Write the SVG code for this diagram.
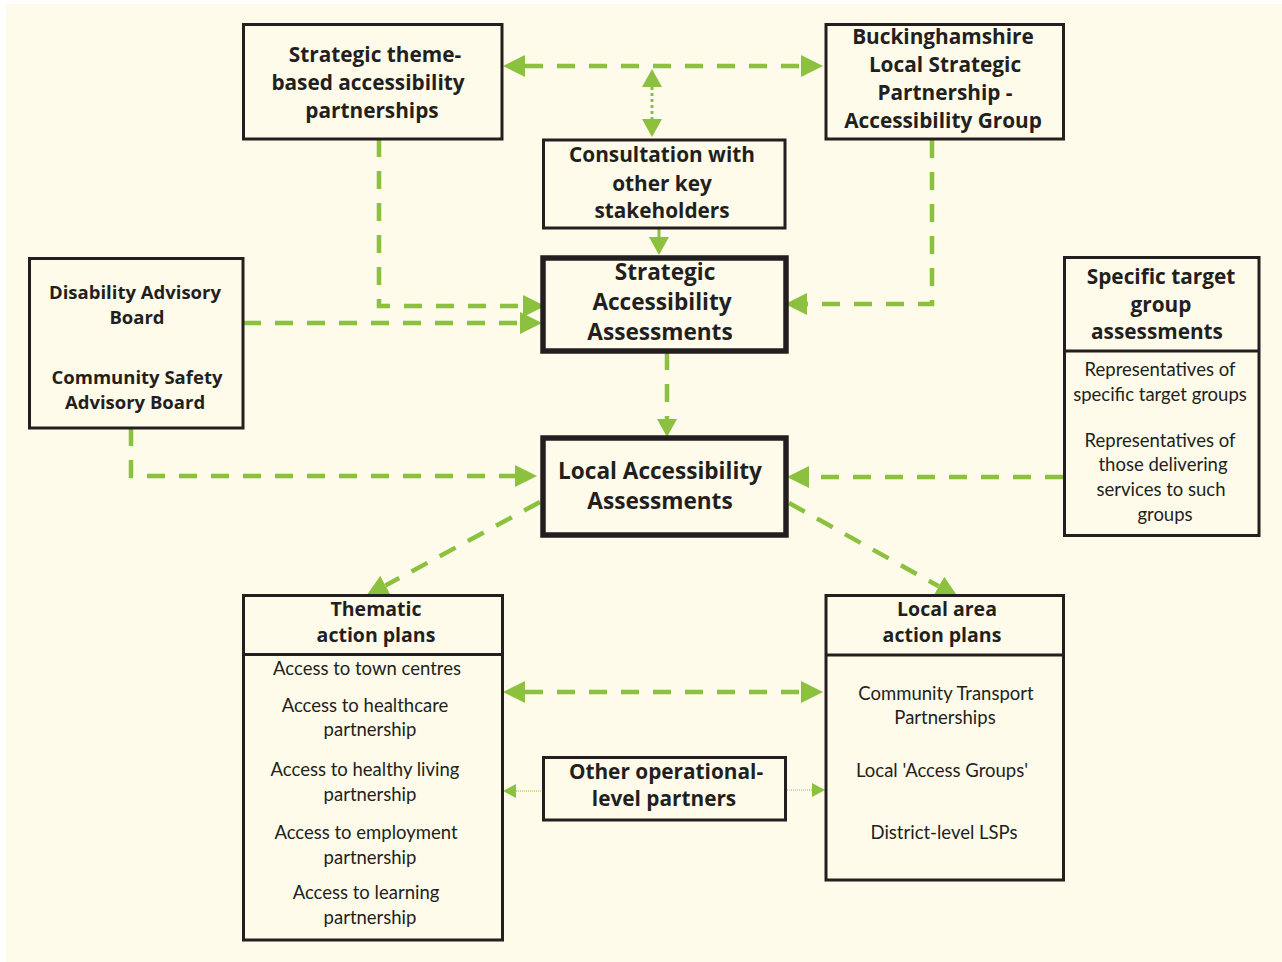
<svg xmlns="http://www.w3.org/2000/svg" width="1282" height="962" viewBox="0 0 1282 962">
<style>
.box{fill:none;stroke:#231f20;stroke-width:3}
.thick{fill:none;stroke:#231f20;stroke-width:5.5}
.h{font-family:"Open Sans","Liberation Sans",sans-serif;font-weight:bold;font-size:20.8px;fill:#231f20;text-anchor:middle}
.hp{font-family:"Open Sans","Liberation Sans",sans-serif;font-weight:bold;font-size:19.5px;fill:#231f20;text-anchor:middle}
.hb{font-family:"Open Sans","Liberation Sans",sans-serif;font-weight:bold;font-size:22.6px;fill:#231f20;text-anchor:middle}
.hs{font-family:"Open Sans","Liberation Sans",sans-serif;font-weight:bold;font-size:18.5px;fill:#231f20;text-anchor:middle}
.t{font-family:Lato,"Liberation Sans",sans-serif;font-size:18.5px;fill:#231f20;text-anchor:middle}
.dash{fill:none;stroke:#8cc03f;stroke-width:4.5;stroke-dasharray:18 14}
.dot{fill:none;stroke:#8cc03f;stroke-width:3;stroke-dasharray:3 3}
.solid{fill:none;stroke:#8cc03f;stroke-width:3}
.thin{fill:none;stroke:#8cc03f;stroke-width:1;stroke-dasharray:1 1}
</style>
<defs>
<marker id="a" markerUnits="userSpaceOnUse" markerWidth="22" markerHeight="22" viewBox="0 0 22 22" refX="0" refY="11" orient="auto-start-reverse"><path d="M0,0 L22,11 L0,22 Z" fill="#8cc03f"/></marker>
<marker id="ad" markerUnits="userSpaceOnUse" markerWidth="18" markerHeight="20" viewBox="0 0 18 20" refX="0" refY="10" orient="auto-start-reverse"><path d="M0,0 L18,10 L0,20 Z" fill="#8cc03f"/></marker>
<marker id="as" markerUnits="userSpaceOnUse" markerWidth="13" markerHeight="14" viewBox="0 0 13 14" refX="0" refY="7" orient="auto-start-reverse"><path d="M0,0 L13,7 L0,14 Z" fill="#8cc03f"/></marker>
</defs>
<rect x="0" y="0" width="1282" height="962" fill="#ffffff"/>
<rect x="6" y="4" width="1276" height="958" fill="#fefbea"/>

<g id="connectors">
<path class="dash" d="M525,66 H801" marker-start="url(#a)" marker-end="url(#a)"/>
<path class="dot" d="M652,87 V119" marker-start="url(#ad)" marker-end="url(#ad)"/>
<path class="solid" d="M659,228 V237" marker-end="url(#ad)"/>
<path class="dash" d="M379,139 V306 H523" marker-end="url(#a)"/>
<path class="dash" d="M243,323 H520" marker-end="url(#a)"/>
<path class="dash" d="M932,140 V304 H807" marker-end="url(#a)"/>
<path class="dash" d="M667,352 V419" marker-end="url(#ad)"/>
<path class="dash" d="M131,428 V476 H515" marker-end="url(#a)"/>
<path class="dash" d="M1063,477 H809" marker-end="url(#a)"/>
<path class="dash" d="M540,502 L385.5,585.5" marker-end="url(#a)"/>
<path class="dash" d="M789,503 L938.8,586.3" marker-end="url(#a)"/>
<path class="dash" d="M525,692 H801" marker-start="url(#a)" marker-end="url(#a)"/>
<path class="thin" d="M543,791 H516" marker-end="url(#as)"/>
<path class="thin" d="M785,790 H812" marker-end="url(#as)"/>
</g>

<g id="n-theme">
<rect class="box" x="243.5" y="24.5" width="258.5" height="114.5"/>
<text class="h"><tspan x="375" y="62">Strategic theme-</tspan><tspan x="368" y="90">based accessibility</tspan><tspan x="372" y="118">partnerships</tspan></text>
</g>

<g id="n-bucks">
<rect class="box" x="826" y="24.5" width="237.5" height="114.5"/>
<text class="h"><tspan x="943" y="44">Buckinghamshire</tspan><tspan x="945" y="72">Local Strategic</tspan><tspan x="945" y="100">Partnership -</tspan><tspan x="943" y="128">Accessibility Group</tspan></text>
</g>

<g id="n-consult">
<rect class="box" x="543.5" y="140" width="241.5" height="88"/>
<text class="h"><tspan x="662" y="162">Consultation with</tspan><tspan x="662" y="191">other key</tspan><tspan x="662" y="218">stakeholders</tspan></text>
</g>

<g id="n-saa">
<rect class="thick" x="543" y="258" width="243" height="93"/>
<text class="hb"><tspan x="665" y="280">Strategic</tspan><tspan x="662" y="310">Accessibility</tspan><tspan x="660" y="340">Assessments</tspan></text>
</g>

<g id="n-disability">
<rect class="box" x="29.5" y="258.5" width="213.5" height="169.5"/>
<text class="hs"><tspan x="135" y="299">Disability Advisory</tspan><tspan x="137" y="324">Board</tspan><tspan x="137" y="384">Community Safety</tspan><tspan x="135" y="409">Advisory Board</tspan></text>
</g>

<g id="n-specific">
<rect class="box" x="1064.5" y="257.5" width="194.5" height="278"/>
<line class="box" x1="1064.5" y1="351" x2="1259" y2="351"/>
<text class="h"><tspan x="1161" y="284">Specific target</tspan><tspan x="1161" y="312">group</tspan><tspan x="1157" y="339">assessments</tspan></text>
<text class="t"><tspan x="1160" y="376">Representatives of</tspan><tspan x="1160" y="401">specific target groups</tspan><tspan x="1160" y="447">Representatives of</tspan><tspan x="1163" y="471">those delivering</tspan><tspan x="1161" y="496">services to such</tspan><tspan x="1165" y="521">groups</tspan></text>
</g>

<g id="n-laa">
<rect class="thick" x="543" y="438" width="243" height="97"/>
<text class="hb"><tspan x="660" y="479">Local Accessibility</tspan><tspan x="660" y="509">Assessments</tspan></text>
</g>

<g id="n-thematic">
<rect class="box" x="243.5" y="595.5" width="259" height="344.5"/>
<line class="box" x1="243.5" y1="654.5" x2="502.5" y2="654.5"/>
<text class="hp"><tspan x="376" y="615.5">Thematic</tspan><tspan x="376" y="642">action plans</tspan></text>
<text class="t"><tspan x="367" y="675">Access to town centres</tspan><tspan x="365" y="712">Access to healthcare</tspan><tspan x="370" y="736">partnership</tspan><tspan x="365" y="776">Access to healthy living</tspan><tspan x="370" y="801">partnership</tspan><tspan x="366" y="839">Access to employment</tspan><tspan x="370" y="864">partnership</tspan><tspan x="366" y="899">Access to learning</tspan><tspan x="370" y="924">partnership</tspan></text>
</g>

<g id="n-localarea">
<rect class="box" x="826" y="595.5" width="237.5" height="284.5"/>
<line class="box" x1="826" y1="655" x2="1063.5" y2="655"/>
<text class="hp"><tspan x="947" y="615.5">Local area</tspan><tspan x="942" y="642">action plans</tspan></text>
<text class="t"><tspan x="946" y="700">Community Transport</tspan><tspan x="945" y="724">Partnerships</tspan><tspan x="942" y="777">Local 'Access Groups'</tspan><tspan x="944" y="839">District-level LSPs</tspan></text>
</g>

<g id="n-other">
<rect class="box" x="543.5" y="757.5" width="242" height="62.5"/>
<text class="h"><tspan x="666" y="779">Other operational-</tspan><tspan x="664" y="806">level partners</tspan></text>
</g>
</svg>
